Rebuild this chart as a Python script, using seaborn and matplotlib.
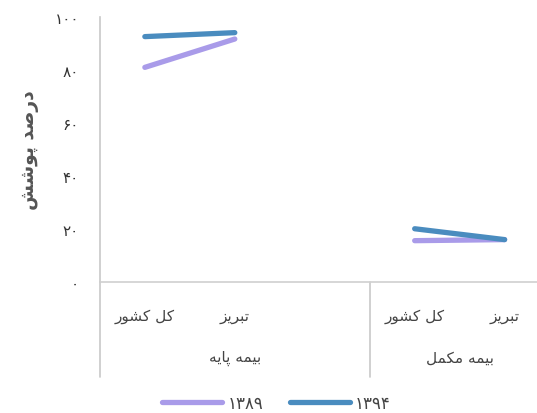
import pandas as pd
import matplotlib
matplotlib.use("Agg")
import matplotlib.pyplot as plt
import seaborn as sns

# data (coverage percent)
groups = ['بیمه پایه', 'بیمه مکمل']
places = ['کل کشور', 'تبریز']
years = ['1389', '1394']
vals_1389 = [81.0, 91.7, 15.6, 16.0]
vals_1394 = [92.6, 94.1, 20.1, 16.0]
yticks = [0, 20, 40, 60, 80, 100]

colors = {'1389': '#a99be9', '1394': '#4a8cbf'}

# tiny persian shaper (matplotlib has no complex text layout)
FORMS = {
    'ا': ('\uFE8D', '\uFE8E', None, None),
    'ب': ('\uFE8F', '\uFE90', '\uFE91', '\uFE92'),
    'پ': ('\uFB56', '\uFB57', '\uFB58', '\uFB59'),
    'ت': ('\uFE95', '\uFE96', '\uFE97', '\uFE98'),
    'د': ('\uFEA9', '\uFEAA', None, None),
    'ر': ('\uFEAD', '\uFEAE', None, None),
    'ز': ('\uFEAF', '\uFEB0', None, None),
    'ش': ('\uFEB5', '\uFEB6', '\uFEB7', '\uFEB8'),
    'ص': ('\uFEB9', '\uFEBA', '\uFEBB', '\uFEBC'),
    'ک': ('\uFB8E', '\uFB8F', '\uFB90', '\uFB91'),
    'ل': ('\uFEDD', '\uFEDE', '\uFEDF', '\uFEE0'),
    'م': ('\uFEE1', '\uFEE2', '\uFEE3', '\uFEE4'),
    'ه': ('\uFEE9', '\uFEEA', '\uFEEB', '\uFEEC'),
    'و': ('\uFEED', '\uFEEE', None, None),
    'ی': ('\uFBFC', '\uFBFD', '\uFBFE', '\uFBFF'),
}


def fa(text):
    out = []
    for i, ch in enumerate(text):
        if ch not in FORMS:
            out.append(ch)
            continue
        prev = text[i - 1] if i > 0 else ''
        nxt = text[i + 1] if i + 1 < len(text) else ''
        jp = prev in FORMS and FORMS[prev][2] is not None
        jn = nxt in FORMS and FORMS[ch][2] is not None
        iso, fin, ini, med = FORMS[ch]
        if jp and jn:
            out.append(med)
        elif jp:
            out.append(fin)
        elif jn:
            out.append(ini)
        else:
            out.append(iso)
    return ''.join(reversed(out))


def fa_num(s):
    return str(s).translate(str.maketrans('0123456789', '۰۱۲۳۴۵۶۷۸۹'))


rows = []
for y, vals in zip(years, [vals_1389, vals_1394]):
    k = 0
    for g in range(len(groups)):
        for p in range(len(places)):
            rows.append({'year': y, 'group': g, 'pos': g * 3 + p, 'value': vals[k]})
            k += 1
df = pd.DataFrame(rows)

sns.set_style('white')
plt.rcParams['font.family'] = ['DejaVu Sans']

fig = plt.figure(figsize=(5.37, 4.14), dpi=100)
ax = fig.add_axes([0.186, 0.3164, 0.814, 0.6401])

sns.lineplot(data=df, x='pos', y='value', hue='year', units='group',
             estimator=None, palette=colors, lw=3.8, ax=ax,
             solid_capstyle='round', legend=False)

ax.set_xlim(-0.5, 4.36)
ax.set_ylim(0, 100)
ax.set_yticks(yticks)
ax.set_yticklabels([fa_num(t) for t in yticks], fontsize=11, color='#333333')
ax.tick_params(axis='y', length=0, pad=15)
ax.set_xticks([])
ax.set_xlabel('')
ax.set_ylabel(fa('درصد پوشش'), fontsize=13.5, fontweight='bold', color='#555555', labelpad=11)

for s in ['top', 'right']:
    ax.spines[s].set_visible(False)
ax.spines['left'].set_color('#c8c8c8')
ax.spines['bottom'].set_color('#d0d0d0')
ax.spines['left'].set_linewidth(1.2)
ax.spines['bottom'].set_linewidth(1.2)

# multi-level category axis
trans = ax.get_xaxis_transform()
for g, gname in enumerate(groups):
    for p, pname in enumerate(places):
        ax.text(g * 3 + p, -0.125, fa(pname), transform=trans, ha='center',
                va='center', fontsize=11, color='#444444')
    mid = g * 3 + (1.0 if g == 0 else 0.5)
    ax.text(mid, -0.285, fa(gname), transform=trans, ha='center', va='center',
            fontsize=11, color='#444444')
for xv in [-0.5, 2.5]:
    ax.plot([xv, xv], [0, -0.36], transform=trans, color='#c8c8c8', lw=1.2,
            clip_on=False)

handles = [plt.Line2D([], [], color=colors[y], lw=3.8, solid_capstyle='round') for y in years]
fig.legend(handles, [fa_num(y) for y in years], loc='center', bbox_to_anchor=(0.515, 0.024),
           ncol=2, frameon=False, fontsize=12, handlelength=3.6, handletextpad=0.3,
           columnspacing=1.6, labelcolor='#444444')

fig.savefig('out.png', dpi=100)
